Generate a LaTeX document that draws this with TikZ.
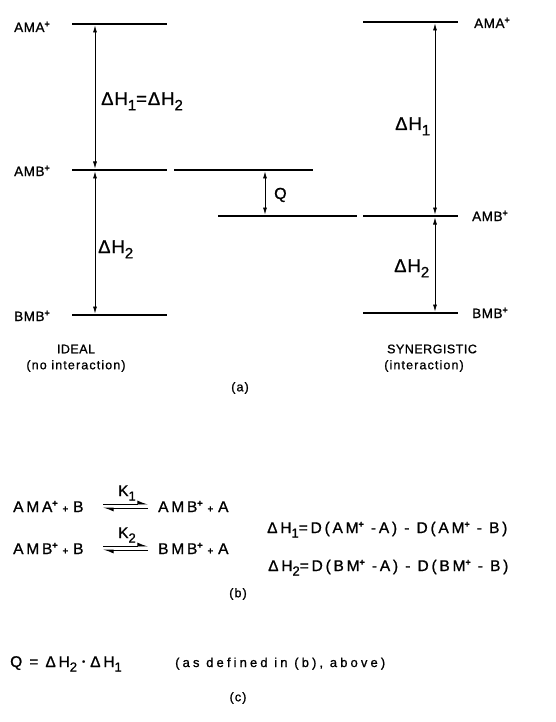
\documentclass[tikz,border=0pt]{standalone}
\usepackage{fontspec}
\setmainfont{Liberation Sans}
\usetikzlibrary{arrows.meta}
\newcommand\ion{\raisebox{0.7ex}{\fontsize{9}{9}\selectfont\bfseries +}}
\newcommand\subs[1]{\raisebox{-0.55ex}{\fontsize{15}{15}\selectfont #1}}
\newcommand\esub[1]{\raisebox{-0.55ex}{\fontsize{13}{13}\selectfont #1}}
\newcommand\smplus{{\fontsize{9.5}{9.5}\selectfont\bfseries +}}
\newcommand\sdot{\raisebox{0.3ex}{\fontsize{9}{9}\selectfont •}}
\newcommand\gapsp{\hspace{5pt}}
\newcommand\lblfont{\fontsize{13.5}{15}\selectfont\addfontfeature{LetterSpace=4,FakeBold=1}}
\newcommand\capfont{\fontsize{12.5}{14}\selectfont\addfontfeature{LetterSpace=4,FakeBold=1}}
\newcommand\lowfont{\fontsize{12.5}{14}\selectfont\addfontfeature{LetterSpace=9,FakeBold=1}}
\newcommand\dhfont{\fontsize{18.5}{21}\selectfont\addfontfeature{LetterSpace=5,FakeBold=1}}
\newcommand\qfont{\fontsize{16}{18}\selectfont\addfontfeature{FakeBold=1}}
\newcommand\eqfont{\fontsize{15.5}{17}\selectfont\addfontfeature{LetterSpace=18,FakeBold=1}}
\newcommand\defont{\fontsize{13}{15}\selectfont\addfontfeature{LetterSpace=24,FakeBold=1}}
\begin{document}
\begin{tikzpicture}[x=1pt,y=-1pt,
  level/.style={line width=1.2pt},
  arr/.style={line width=0.7pt, arrows={Latex[length=7pt,width=4pt]-Latex[length=7pt,width=4pt]}, shorten >=1.5pt, shorten <=1.5pt},
  harp/.style={line width=0.8pt, arrows={-Latex[length=9pt,width=7pt,harpoon]}},
  lbl/.style={font=\lblfont, inner sep=0pt},
  capstyle/.style={font=\capfont, inner sep=0pt},
  low/.style={font=\lowfont, inner sep=0pt},
  dh/.style={font=\dhfont, inner sep=0pt},
  qlbl/.style={font=\qfont, inner sep=0pt},
  eqn/.style={font=\eqfont, inner sep=0pt},
  defn/.style={font=\defont, inner sep=0pt}]
\useasboundingbox (0,0) rectangle (556,722);
% ---------- (a) level lines
\coordinate (LA1) at (72,24);  \coordinate (LA2) at (167,24);
\coordinate (LB1) at (72,170); \coordinate (LB2) at (167,170);
\coordinate (LC1) at (72,315); \coordinate (LC2) at (167,315);
\coordinate (MA1) at (174,170); \coordinate (MA2) at (313,170);
\coordinate (MB1) at (218,216); \coordinate (MB2) at (357,216);
\coordinate (RA1) at (363,22);  \coordinate (RA2) at (458,22);
\coordinate (RB1) at (363,216); \coordinate (RB2) at (458,216);
\coordinate (RC1) at (363,313); \coordinate (RC2) at (458,313);
\draw[level] (LA1) -- (LA2);
\draw[level] (LB1) -- (LB2);
\draw[level] (LC1) -- (LC2);
\draw[level] (MA1) -- (MA2);
\draw[level] (MB1) -- (MB2);
\draw[level] (RA1) -- (RA2);
\draw[level] (RB1) -- (RB2);
\draw[level] (RC1) -- (RC2);
% arrows
\coordinate (L1) at (95,24); \coordinate (L2) at (95,170); \coordinate (L3) at (95,315);
\coordinate (Q1) at (265,170); \coordinate (Q2) at (265,216);
\coordinate (R1) at (435,22); \coordinate (R2) at (435,216); \coordinate (R3) at (435,313);
\draw[arr] (L1) -- (L2);
\draw[arr] (L2) -- (L3);
\draw[arr] (Q1) -- (Q2);
\draw[arr] (R1) -- (R2);
\draw[arr] (R2) -- (R3);
% labels
\node[lbl, anchor=base west] (tAMAl) at (14,32) {AMA\ion};
\node[lbl, anchor=base west] (tAMBl) at (14,176) {AMB\ion};
\node[lbl, anchor=base west] (tBMBl) at (14,321) {BMB\ion};
\node[lbl, anchor=base west] (tAMAr) at (474,28) {AMA\ion};
\node[lbl, anchor=base west] (tAMBr) at (472,221) {AMB\ion};
\node[lbl, anchor=base west] (tBMBr) at (472,318) {BMB\ion};
\node[dh, anchor=base west] (dHeq) at (101,105) {ΔH\subs{1}=ΔH\subs{2}};
\node[dh, anchor=base west] (dH2l) at (98,253) {ΔH\subs{2}};
\node[qlbl, anchor=base west] (tQ) at (274,199) {Q};
\node[dh, anchor=base west] (dH1r) at (395,130) {ΔH\subs{1}};
\node[dh, anchor=base west] (dH2r) at (394,272) {ΔH\subs{2}};
\node[capstyle] (ideal) at (76,349) {IDEAL};
\node[low] (noint) at (76,366) {(no interaction)};
\node[capstyle] (syn) at (432,349) {SYNERGISTIC};
\node[low] (inter) at (424,366) {(interaction)};
\node[low] (pa) at (240,388) {(a)};
% ---------- (b)
\node[eqn, anchor=base west] (e1l) at (13,512) {AMA\ion\gapsp\smplus\gapsp B};
\node[eqn, anchor=base west] (e1r) at (158,512) {AMB\ion\gapsp\smplus\gapsp A};
\node[eqn, anchor=base west] (e2l) at (13,554) {AMB\ion\gapsp\smplus\gapsp B};
\node[eqn, anchor=base west] (e2r) at (158,554) {BMB\ion\gapsp\smplus\gapsp A};
\coordinate (k1a) at (103,504); \coordinate (k1b) at (148,504);
\coordinate (k1c) at (148,508); \coordinate (k1d) at (103,508);
\coordinate (k2a) at (103,546); \coordinate (k2b) at (148,546);
\coordinate (k2c) at (148,550); \coordinate (k2d) at (103,550);
\draw[harp] (k1a) -- (k1b);
\draw[harp] (k1c) -- (k1d);
\draw[harp] (k2a) -- (k2b);
\draw[harp] (k2c) -- (k2d);
\node[eqn, anchor=base] (K1) at (127,496) {K\esub{1}};
\node[eqn, anchor=base] (K2) at (127,538) {K\esub{2}};
\node[eqn, anchor=base west] (dH1d) at (267,533) {ΔH\esub{1}=D(AM\ion\ -A) - D(AM\ion\ - B)};
\node[eqn, anchor=base west] (dH2d) at (268,571) {ΔH\esub{2}=D(BM\ion\ -A) - D(BM\ion\ - B)};
\node[low] (pb) at (238,594) {(b)};
% ---------- (c)
\node[eqn, anchor=base west] (qeq) at (10,667) {Q = ΔH\esub{2}\gapsp\sdot\gapsp ΔH\esub{1}};
\node[defn, anchor=base west] (asdef) at (175,667) {(as defined in (b), above)};
\node[low] (pc) at (238,698) {(c)};
\end{tikzpicture}
\end{document}
